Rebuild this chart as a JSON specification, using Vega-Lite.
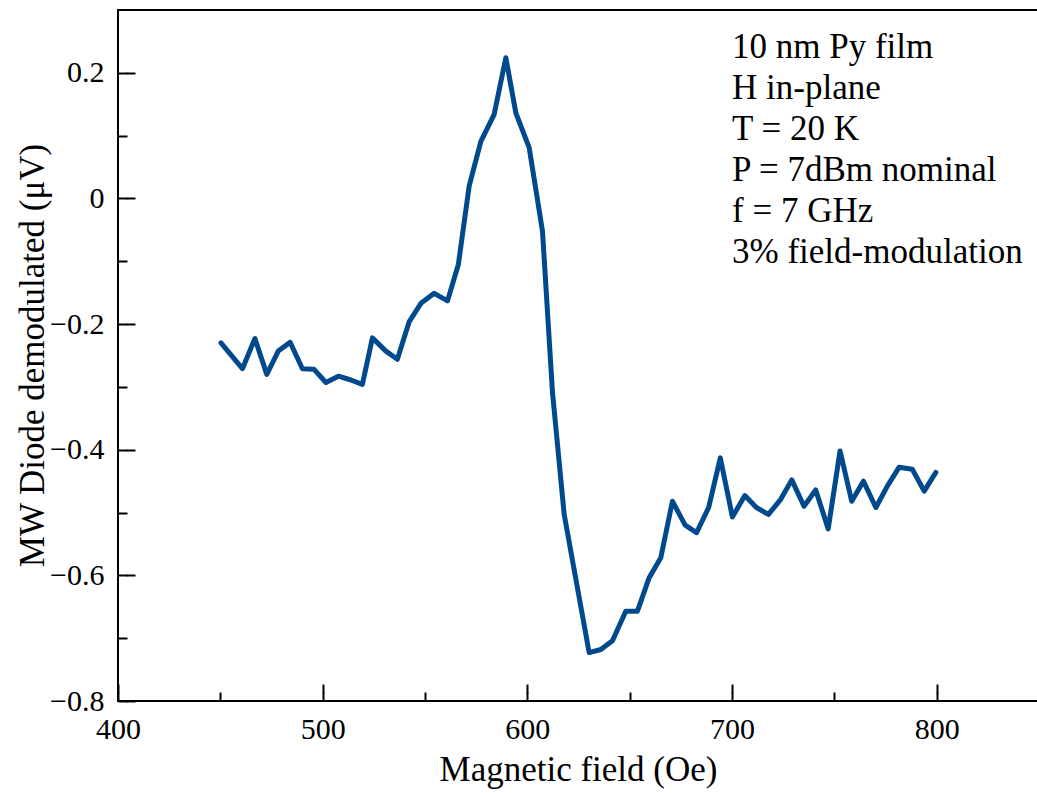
{
  "$schema": "https://vega.github.io/schema/vega-lite/v6.json",
  "width": 921,
  "height": 691,
  "autosize": {"type": "none"},
  "padding": {"left": 118, "top": 10, "right": 0, "bottom": 92},
  "background": "white",
  "config": {
    "view": {"stroke": "black", "strokeWidth": 2},
    "font": "Liberation Serif"
  },
  "data": {
    "values": [
      {"H": 450.3, "V": -0.230},
      {"H": 460.8, "V": -0.271},
      {"H": 466.9, "V": -0.223},
      {"H": 472.7, "V": -0.280},
      {"H": 478.3, "V": -0.243},
      {"H": 484.1, "V": -0.229},
      {"H": 490.1, "V": -0.271},
      {"H": 495.8, "V": -0.272},
      {"H": 501.6, "V": -0.293},
      {"H": 507.7, "V": -0.283},
      {"H": 513.8, "V": -0.289},
      {"H": 519.4, "V": -0.296},
      {"H": 524.3, "V": -0.222},
      {"H": 530.9, "V": -0.243},
      {"H": 536.5, "V": -0.256},
      {"H": 542.3, "V": -0.196},
      {"H": 548.0, "V": -0.167},
      {"H": 554.5, "V": -0.151},
      {"H": 561.0, "V": -0.163},
      {"H": 566.3, "V": -0.105},
      {"H": 571.6, "V": 0.020},
      {"H": 577.3, "V": 0.091},
      {"H": 583.8, "V": 0.134},
      {"H": 589.5, "V": 0.224},
      {"H": 594.4, "V": 0.136},
      {"H": 600.9, "V": 0.081},
      {"H": 607.4, "V": -0.052},
      {"H": 612.3, "V": -0.309},
      {"H": 618.0, "V": -0.503},
      {"H": 630.2, "V": -0.723},
      {"H": 635.9, "V": -0.718},
      {"H": 641.6, "V": -0.704},
      {"H": 648.1, "V": -0.657},
      {"H": 653.8, "V": -0.657},
      {"H": 659.5, "V": -0.604},
      {"H": 665.2, "V": -0.572},
      {"H": 670.9, "V": -0.482},
      {"H": 677.1, "V": -0.520},
      {"H": 682.7, "V": -0.532},
      {"H": 688.6, "V": -0.492},
      {"H": 694.3, "V": -0.413},
      {"H": 700.2, "V": -0.507},
      {"H": 706.3, "V": -0.473},
      {"H": 711.9, "V": -0.492},
      {"H": 717.8, "V": -0.503},
      {"H": 723.8, "V": -0.479},
      {"H": 729.2, "V": -0.448},
      {"H": 735.2, "V": -0.490},
      {"H": 740.9, "V": -0.464},
      {"H": 747.0, "V": -0.526},
      {"H": 752.8, "V": -0.402},
      {"H": 758.5, "V": -0.482},
      {"H": 764.2, "V": -0.450},
      {"H": 770.3, "V": -0.492},
      {"H": 775.9, "V": -0.458},
      {"H": 781.6, "V": -0.428},
      {"H": 788.1, "V": -0.431},
      {"H": 793.9, "V": -0.466},
      {"H": 799.6, "V": -0.436}
    ]
  },
  "layer": [
    {
      "mark": {"type": "line", "color": "#00498d", "strokeWidth": 5, "strokeCap": "round", "strokeJoin": "round"},
      "encoding": {
        "x": {
          "field": "H", "type": "quantitative",
          "scale": {"domain": [400, 850], "nice": false, "zero": false},
          "axis": {
            "orient": "bottom",
            "values": [400, 500, 600, 700, 800],
            "format": "d",
            "ticks": false,
            "domain": false,
            "grid": false,
            "labelFont": "Liberation Serif", "labelFontSize": 30, "labelColor": "black",
            "labelPadding": 13, "labelFlush": false, "labelOverlap": false, "labelBound": false,
            "title": "Magnetic field (Oe)",
            "titleFont": "Liberation Serif", "titleFontSize": 35, "titleFontWeight": "normal", "titleColor": "black",
            "titleBaseline": "alphabetic", "titleX": 460, "titleY": 79
          }
        },
        "y": {
          "field": "V", "type": "quantitative",
          "scale": {"domain": [-0.8, 0.3], "nice": false, "zero": false},
          "axis": {
            "orient": "left",
            "values": [-0.8, -0.6, -0.4, -0.2, 0, 0.2],
            "format": "~g",
            "ticks": false,
            "domain": false,
            "grid": false,
            "labelFont": "Liberation Serif", "labelFontSize": 30, "labelColor": "black",
            "labelPadding": 14, "labelFlush": false, "labelOverlap": false, "labelBound": false,
            "title": "MW Diode demodulated (μV)",
            "titleFont": "Liberation Serif", "titleFontSize": 35, "titleFontWeight": "normal", "titleColor": "black",
            "titleBaseline": "alphabetic", "titleAngle": -90, "titleX": -75, "titleY": 345
          }
        }
      }
    },
    {
      "mark": {"type": "line", "opacity": 0},
      "encoding": {
        "x": {
          "field": "H", "type": "quantitative",
          "axis": {
            "orient": "bottom",
            "values": [400, 450, 500, 550, 600, 650, 700, 750, 800],
            "ticks": true,
            "tickSize": -9,
            "tickWidth": 2, "tickColor": "#000000",
            "domain": false, "grid": false, "labels": false, "title": null
          }
        },
        "y": {
          "field": "V", "type": "quantitative",
          "axis": {
            "orient": "left",
            "values": [-0.8, -0.7, -0.6, -0.5, -0.4, -0.3, -0.2, -0.1, 0, 0.1, 0.2],
            "ticks": true,
            "tickSize": -9,
            "tickWidth": 2, "tickColor": "#000000",
            "domain": false, "grid": false, "labels": false, "title": null
          }
        }
      }
    },
    {
      "mark": {"type": "line", "opacity": 0},
      "encoding": {
        "x": {
          "field": "H", "type": "quantitative",
          "axis": {
            "orient": "bottom",
            "offset": -8,
            "values": [400, 500, 600, 700, 800],
            "ticks": true,
            "tickSize": -9,
            "tickWidth": 2, "tickColor": "#000000",
            "domain": false, "grid": false, "labels": false, "title": null
          }
        },
        "y": {
          "field": "V", "type": "quantitative",
          "axis": {
            "orient": "left",
            "offset": -8,
            "values": [-0.8, -0.6, -0.4, -0.2, 0, 0.2],
            "ticks": true,
            "tickSize": -9,
            "tickWidth": 2, "tickColor": "#000000",
            "domain": false, "grid": false, "labels": false, "title": null
          }
        }
      }
    },
    {
      "data": {"values": [{}]},
      "mark": {
        "type": "text",
        "text": ["10 nm Py film", "H in-plane", "T = 20 K", "P = 7dBm nominal", "f = 7 GHz", "3% field-modulation"],
        "font": "Liberation Serif", "fontSize": 35, "lineHeight": 41,
        "align": "left", "baseline": "alphabetic", "color": "black"
      },
      "encoding": {
        "x": {"datum": 700, "type": "quantitative", "axis": null},
        "y": {"datum": 0.224, "type": "quantitative", "axis": null}
      }
    }
  ],
  "resolve": {"axis": {"x": "independent", "y": "independent"}}
}
